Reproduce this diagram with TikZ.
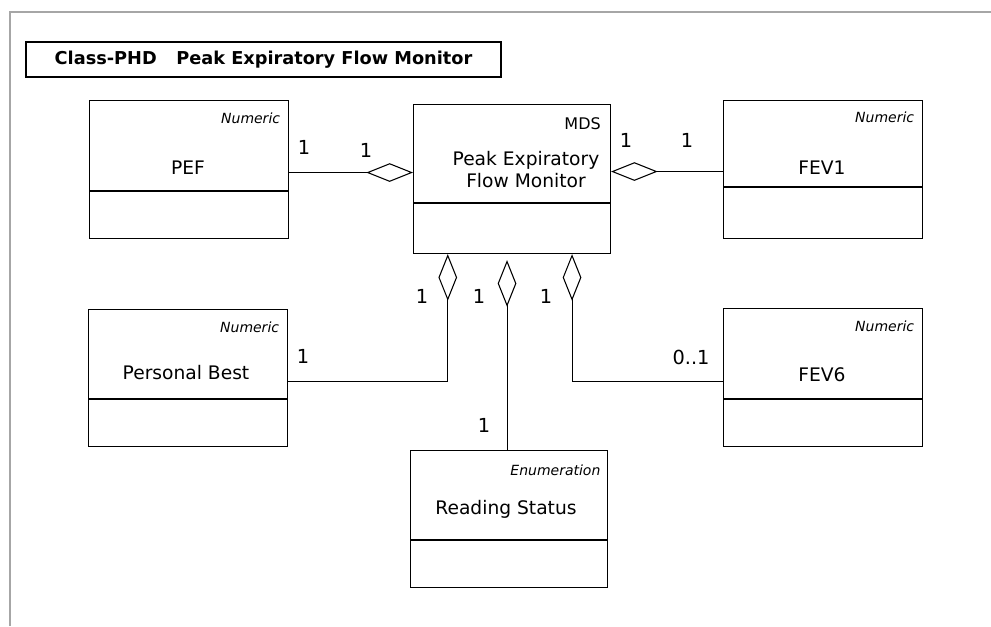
\documentclass[tikz,border=0pt]{standalone}
\usepackage{fontspec}
\setmainfont{DejaVu Sans}
\usetikzlibrary{positioning,arrows.meta}

\begin{document}
\begin{tikzpicture}[x=0.75pt,y=-0.75pt,line width=0.8pt,
  classtop/.style={draw,inner sep=0pt,anchor=north west,minimum width=149.25pt},
  classbot/.style={draw,inner sep=0pt,minimum width=149.25pt,minimum height=35.25pt,below=0pt of #1},
  classname/.style={font=\fontsize{14}{16.5}\selectfont,align=center},
  stereo/.style={font=\fontsize{10.5}{12}\selectfont\itshape,anchor=east},
  mult/.style={font=\fontsize{14.5}{16}\selectfont},
  aggr/.style={{Diamond[open,length=35pt,width=14pt]}-}]
\useasboundingbox (0,0) rectangle (991,626);
% frame
\draw[gray!70,line width=1.5pt] (10,626) -- (10,12) -- (991,12);
% title
\node[draw,minimum width=356.25pt,minimum height=26.25pt,inner sep=0pt,
  font=\bfseries\fontsize{13.3}{15}\selectfont] (title) at (263.5,59.5)
  {Class-PHD\hspace{1.1em}Peak Expiratory Flow Monitor};

% MDS
\node[classtop,minimum width=147.75pt,minimum height=73.5pt] (mdsu) at (413,104) {};
\node[classbot=mdsu,minimum width=147.75pt,minimum height=37.5pt] (mdsl) {};
\node[font=\fontsize{12}{14}\selectfont,anchor=east] (mdsst) at ([xshift=-4pt,yshift=-15pt]mdsu.north east) {MDS};
\node[classname] (mdsname) at (526,170) {Peak Expiratory\\Flow Monitor};

% PEF
\node[classtop,minimum height=67.5pt] (pefu) at (89,100) {};
\node[classbot=pefu] (pefl) {};
\node[stereo] (pefst) at ([xshift=-3pt,yshift=-13.5pt]pefu.north east) {Numeric};
\node[classname] (pefname) at (188,168) {PEF};

% FEV1
\node[classtop,minimum height=64.5pt] (fevau) at (723,100) {};
\node[classbot=fevau,minimum height=38.25pt] (feval) {};
\node[stereo] (fevast) at ([xshift=-3pt,yshift=-13pt]fevau.north east) {Numeric};
\node[classname] (fevaname) at (822,168) {FEV1};

% Personal Best
\node[classtop,minimum height=66.75pt] (pbu) at (88,309) {};
\node[classbot=pbu] (pbl) {};
\node[stereo] (pbst) at ([xshift=-3pt,yshift=-13.5pt]pbu.north east) {Numeric};
\node[classname] (pbname) at (186,373) {Personal Best};

% FEV6
\node[classtop,minimum height=67.5pt] (fevbu) at (723,308) {};
\node[classbot=fevbu] (fevbl) {};
\node[stereo] (fevbst) at ([xshift=-3pt,yshift=-13.5pt]fevbu.north east) {Numeric};
\node[classname] (fevbname) at (822,375) {FEV6};

% Reading Status
\node[classtop,minimum width=147.75pt,minimum height=66.75pt] (rsu) at (410,450) {};
\node[classbot=rsu,minimum width=147.75pt] (rsl) {};
\node[stereo] (rsst) at ([xshift=-2pt,yshift=-15pt]rsu.north east) {Enumeration};
\node[classname] (rsname) at (506,509) {Reading Status};

% aggregations
\draw[aggr] ([yshift=-14.25pt]mdsu.west) coordinate (mdsw) -- (mdsw -| pefu.east);
\draw[aggr] ([yshift=-13.5pt]mdsu.east) coordinate (mdse) -- (mdse -| fevau.west);
\draw[aggr] ([xshift=-48.2pt]mdsl.south) |- ([yshift=-20.6pt]pbu.east);
\draw[aggr] ([xshift=-3.75pt,yshift=-4.5pt]mdsl.south) coordinate (mdsm) -- (mdsm |- rsu.north);
\draw[aggr] ([xshift=45pt]mdsl.south) |- ([yshift=-21pt]fevbu.west);

% multiplicities
\node[mult] (m1) at (304,147) {1};
\node[mult] (m2) at (366,150) {1};
\node[mult] (m3) at (626,140) {1};
\node[mult] (m4) at (687,140) {1};
\node[mult] (m5) at (422,296) {1};
\node[mult] (m6) at (479,296) {1};
\node[mult] (m7) at (546,296) {1};
\node[mult] (m8) at (303,356) {1};
\node[mult] (m9) at (691,357) {0..1};
\node[mult] (m10) at (484,425) {1};
\end{tikzpicture}
\end{document}
